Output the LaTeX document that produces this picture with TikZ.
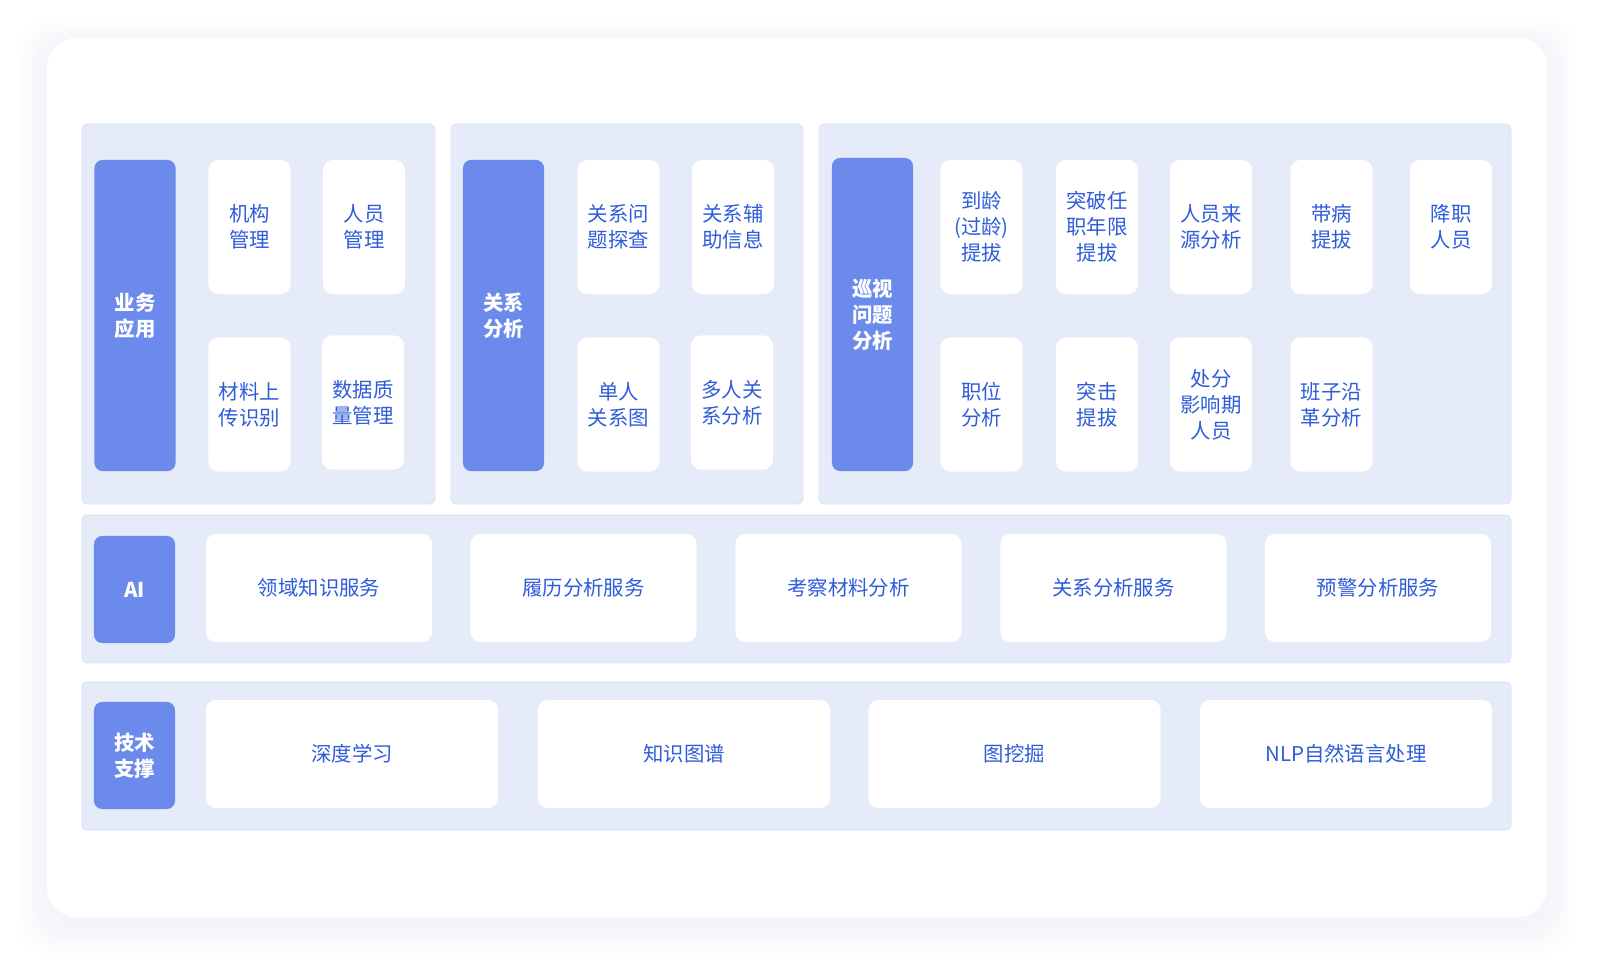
\documentclass[tikz,border=0pt]{standalone}
\usepackage{fontspec}
\setmainfont{Noto Sans CJK SC}
\usetikzlibrary{positioning}
\definecolor{Panel}{HTML}{E5EBF9}
\definecolor{PanelLine}{HTML}{D8E0F6}
\definecolor{Label}{HTML}{6B8AEC}
\definecolor{Ink}{HTML}{2F5CD9}
\definecolor{Shade}{HTML}{7474B4}

\begin{document}
\begin{tikzpicture}[x=0.025cm,y=-0.025cm,
    panel/.style={rounded corners=3.5pt,draw=PanelLine,fill=Panel,line width=0.6pt},
    tag/.style={rounded corners=6pt,fill=Label,text=white,align=center,inner sep=0pt,
      minimum width=2.03cm,font=\fontsize{14.5}{18.5}\selectfont\bfseries},
    item/.style={rounded corners=7pt,fill=white,text=Ink,align=center,inner sep=0pt,
      minimum width=2.05cm,minimum height=3.35cm,font=\fontsize{14.5}{18.5}\selectfont},
    band/.style={item,minimum height=2.7cm}
  ]
    \useasboundingbox (0,0) rectangle (1600,970);
    % card with soft shadow
    \foreach \k in {1,...,10}
      \fill[Shade,opacity=0.008,rounded corners=24pt] (47-3*\k,46-3*\k) rectangle (1547+3*\k,925+3*\k);
    \fill[white,rounded corners=21pt] (47,38) rectangle (1547,917);

    \draw[panel] (82,124) rectangle (435,504);
    \draw[panel] (451,124) rectangle (803,504);
    \draw[panel] (819,124) rectangle (1511,504);
    \draw[panel] (82,515) rectangle (1511,663);
    \draw[panel] (82,682) rectangle (1511,830);

    % 业务应用
    \node[tag,minimum height=7.78cm] (biz) at (135,315.5) {业务\\应用};
    \foreach \x/\y/\num/\txt in {
      249.5/227/1/{机构\\管理}, 364/227/2/{人员\\管理},
      249.5/404.5/3/{材料上\\传识别}, 363/402.5/4/{数据质\\量管理}}
      \node[item] (biz\num) at (\x,\y) {\txt};

    % 关系分析
    \node[tag,minimum height=7.78cm] (rel) at (503.5,315.5) {关系\\分析};
    \foreach \x/\y/\num/\txt in {
      618.5/227/1/{关系问\\题探查}, 733/227/2/{关系辅\\助信息},
      618.5/404.5/3/{单人\\关系图}, 732/402.5/4/{多人关\\系分析}}
      \node[item] (rel\num) at (\x,\y) {\txt};

    % 巡视问题分析
    \node[tag,minimum height=7.83cm] (ins) at (872.5,314.5) {巡视\\问题\\分析};
    \foreach \x/\num/\txt in {
      981.5/1/{到龄\\(过龄)\\提拔}, 1097/2/{突破任\\职年限\\提拔}, 1211/3/{人员来\\源分析},
      1331.5/4/{带病\\提拔}, 1451/5/{降职\\人员}}
      \node[item] (ins\num) at (\x,227) {\txt};
    \foreach \x/\num/\txt in {
      981.5/6/{职位\\分析}, 1097/7/{突击\\提拔}, 1211/8/{处分\\影响期\\人员}, 1331.5/9/{班子沿\\革分析}}
      \node[item] (ins\num) at (\x,404.5) {\txt};

    % AI
    \node[tag,minimum height=2.68cm] (ai) at (134.5,589.5) {AI};
    \foreach \x/\num/\txt in {
      319/1/领域知识服务, 583.5/2/履历分析服务, 848.5/3/考察材料分析,
      1113.5/4/关系分析服务, 1378/5/预警分析服务}
      \node[band,minimum width=5.65cm] (ai\num) at (\x,588) {\txt};

    % 技术支撑
    \node[tag,minimum height=2.68cm] (tech) at (134.5,755.5) {技术\\支撑};
    \foreach \x/\num/\txt in {
      352/1/深度学习, 684/2/知识图谱, 1014.5/3/图挖掘, 1346/4/NLP自然语言处理}
      \node[band,minimum width=7.3cm] (tech\num) at (\x,754) {\txt};
  \end{tikzpicture}
\end{document}
